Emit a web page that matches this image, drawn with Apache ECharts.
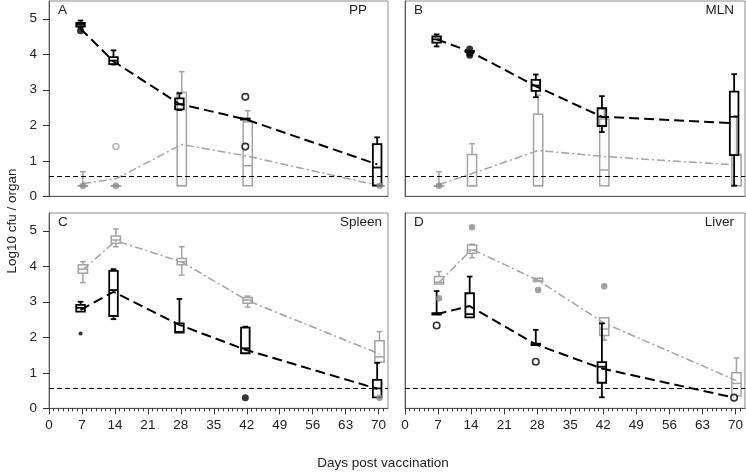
<!DOCTYPE html>
<html>
<head>
<meta charset="utf-8">
<script src="https://cdn.jsdelivr.net/npm/echarts@6/dist/echarts.min.js"></script>
<style>html,body{margin:0;padding:0;background:#fff}#c{width:746px;height:472px}</style>
</head>
<body>
<div id="c"></div>
<script>
// ---------------- DATA ----------------
const days = [7, 14, 28, 42, 70];
const xTicks = [0, 7, 14, 21, 28, 35, 42, 49, 56, 63, 70];
const yTicks = [0, 1, 2, 3, 4, 5];
const detectionLimit = 0.57;
const panelLetters = ['A', 'B', 'C', 'D'];
const panelOrgans = ['PP', 'MLN', 'Spleen', 'Liver'];

// box stats per day: [lowWhisker, q1, median, q3, highWhisker]
const ppBlackBox = [[4.75,4.78,4.83,4.88,4.95],[3.71,3.72,3.82,3.92,4.11],[2.43,2.45,2.59,2.76,2.90],[2.16,2.16,2.18,2.19,2.19],[0.30,0.30,0.81,1.47,1.66]];
const ppGreyBox  = [[0.30,0.30,0.30,0.30,0.69],[0.30,0.30,0.30,0.30,0.30],[0.30,0.30,0.30,2.92,3.51],[0.30,0.30,0.86,2.10,2.41],[0.30,0.30,0.30,0.30,0.30]];
const ppBlackMean = [4.72, 3.80, 2.60, 2.17, 0.90];
const ppGreyMean  = [0.36, 0.49, 1.46, 1.13, 0.30];
const ppBlackFilled = [[7, 4.66]];
const ppBlackOpen   = [[42, 2.80], [42, 1.40]];
const ppGreyFilled  = [[7, 0.30], [14, 0.30], [70, 0.30]];
const ppGreyOpen    = [[14, 1.40]];

const mlnBlackBox = [[4.22,4.33,4.42,4.50,4.56],[4.07,4.07,4.08,4.09,4.09],[2.79,2.97,3.12,3.28,3.43],[1.81,1.98,2.24,2.48,2.82],[0.30,1.16,2.24,2.95,3.44]];
const mlnGreyBox  = [[0.30,0.30,0.30,0.30,0.69],[0.30,0.30,0.30,1.18,1.48],[0.30,0.30,0.30,2.31,2.85],[0.30,0.30,0.74,2.18,2.45],[0.30,0.30,0.30,1.18,2.27]];
const mlnBlackMean = [4.42, 4.08, 3.10, 2.24, 2.06];
const mlnGreyMean  = [0.33, 0.64, 1.29, 1.12, 0.88];
const mlnBlackFilled = [[14, 4.15], [14, 4.03], [14, 3.97]];
const mlnBlackOpen   = [];
const mlnGreyFilled  = [[7, 0.30]];
const mlnGreyOpen    = [];

const spleenBlackBox = [[2.72,2.72,2.83,2.91,3.00],[2.51,2.60,3.33,3.87,3.92],[2.13,2.13,2.15,2.39,3.08],[1.55,1.55,1.69,2.27,2.30],[0.31,0.31,0.56,0.80,1.28]];
const spleenGreyBox  = [[3.54,3.80,3.92,4.04,4.13],[4.55,4.65,4.74,4.85,5.05],[3.75,4.04,4.13,4.22,4.55],[2.85,2.96,3.05,3.12,3.16],[1.30,1.30,1.45,1.90,2.16]];
const spleenBlackMean = [2.77, 3.28, 2.35, 1.65, 0.55];
const spleenGreyMean  = [3.90, 4.72, 4.12, 3.03, 1.53];
const spleenBlackFilled = [[42, 0.30]];
const spleenBlackSmall  = [[7, 2.11]];
const spleenBlackOpen   = [];
const spleenGreyFilled  = [[70, 0.30]];
const spleenGreyOpen    = [];

const liverBlackBox = [[2.64,2.64,2.66,2.68,3.30],[2.56,2.56,2.65,3.24,3.71],[1.78,1.78,1.80,1.82,2.21],[0.31,0.72,1.17,1.30,2.39],null];
const liverGreyBox  = [[3.50,3.50,3.55,3.71,3.85],[4.24,4.37,4.46,4.60,4.62],[3.57,3.57,3.60,3.66,3.66],[1.92,2.05,2.23,2.55,2.55],[0.35,0.35,0.70,1.00,1.42]];
const liverBlackMean = [2.65, 2.88, 1.80, 1.12, 0.30];
const liverGreyMean  = [3.55, 4.48, 3.60, 2.40, 0.78];
const liverBlackFilled = [];
const liverBlackOpen   = [[7, 2.33], [28, 1.31], [70, 0.30]];
const liverGreyFilled  = [[7, 3.10], [14, 5.10], [28, 3.33], [42, 3.44]];
const liverGreyOpen    = [];

// ---------------- STYLE / LAYOUT ----------------
const FONT = "'Liberation Sans', Arial, sans-serif";
const BLACK = '#000000';
const GREY = '#a3a3a3';
const GREY_DOT = '#8a8a8a';
const BLACK_OFF = -0.3, GREY_OFF = 0.2;
const X_MIN = 0, X_MAX = 72, X_STEP = 7;

const panels = [
  {black: ppBlackBox, grey: ppGreyBox, bm: ppBlackMean, gm: ppGreyMean, bf: ppBlackFilled, bo: ppBlackOpen, bs: [], gf: ppGreyFilled, go: ppGreyOpen},
  {black: mlnBlackBox, grey: mlnGreyBox, bm: mlnBlackMean, gm: mlnGreyMean, bf: mlnBlackFilled, bo: mlnBlackOpen, bs: [], gf: mlnGreyFilled, go: mlnGreyOpen},
  {black: spleenBlackBox, grey: spleenGreyBox, bm: spleenBlackMean, gm: spleenGreyMean, bf: spleenBlackFilled, bo: spleenBlackOpen, bs: spleenBlackSmall, gf: spleenGreyFilled, go: spleenGreyOpen},
  {black: liverBlackBox, grey: liverGreyBox, bm: liverBlackMean, gm: liverGreyMean, bf: liverBlackFilled, bo: liverBlackOpen, bs: [], gf: liverGreyFilled, go: liverGreyOpen}
];

const gridPos = [
  {left: 49, top: 1, width: 339, height: 195.3},
  {left: 405, top: 1, width: 340, height: 195.3},
  {left: 49, top: 213, width: 339, height: 195.3},
  {left: 405, top: 213, width: 340, height: 195.3}
];
const organRightEdge = [367, 734, 382, 734];

function boxRender(color, lw, halfW, capW) {
  return function (params, api) {
    const x = api.value(0);
    const lo = api.value(1), q1 = api.value(2), med = api.value(3), q3 = api.value(4), hi = api.value(5);
    const pHi = api.coord([x, hi]), pQ3 = api.coord([x, q3]), pMed = api.coord([x, med]);
    const pQ1 = api.coord([x, q1]), pLo = api.coord([x, lo]);
    const cx = pMed[0];
    const st = {stroke: color, lineWidth: lw, fill: null};
    const ch = [];
    if (hi > q3) {
      ch.push({type: 'line', shape: {x1: cx, y1: pHi[1], x2: cx, y2: pQ3[1]}, style: st});
      ch.push({type: 'line', shape: {x1: cx - capW, y1: pHi[1], x2: cx + capW, y2: pHi[1]}, style: st});
    }
    if (lo < q1) {
      ch.push({type: 'line', shape: {x1: cx, y1: pLo[1], x2: cx, y2: pQ1[1]}, style: st});
      ch.push({type: 'line', shape: {x1: cx - capW, y1: pLo[1], x2: cx + capW, y2: pLo[1]}, style: st});
    }
    ch.push({type: 'rect', shape: {x: cx - halfW, y: pQ3[1], width: 2 * halfW, height: Math.max(pQ1[1] - pQ3[1], 0.5)}, style: st});
    ch.push({type: 'line', shape: {x1: cx - halfW, y1: pMed[1], x2: cx + halfW, y2: pMed[1]}, style: st});
    return {type: 'group', children: ch};
  };
}

function boxData(arr, off) {
  const out = [];
  arr.forEach((b, i) => { if (b) out.push([days[i] + off].concat(b)); });
  return out;
}
function lineData(arr, off) { return arr.map((v, i) => [days[i] + off, v]); }
function ptData(arr, off) { return arr.map(p => [p[0] + off, p[1]]); }

const grids = [], xAxes = [], yAxes = [], series = [];
gridPos.forEach((g, i) => {
  grids.push(Object.assign({show: true, borderColor: '#8c8c8c', borderWidth: 1, backgroundColor: '#fff'}, g));
  const bottom = i >= 2, left = (i % 2) === 0;
  xAxes.push({
    type: 'value', gridIndex: i, min: X_MIN, max: X_MAX, interval: X_STEP, position: 'bottom',
    axisLine: {show: true, onZero: false, lineStyle: {color: '#555', width: 1}},
    axisTick: {show: bottom, length: 6, customValues: xTicks, lineStyle: {color: '#333'}},
    minorTick: {show: bottom, splitNumber: X_STEP, length: 3, lineStyle: {color: '#333', width: 1}},
    axisLabel: {show: bottom, customValues: xTicks, fontSize: 13.5, fontFamily: FONT, color: '#222', margin: 10},
    splitLine: {show: false}, minorSplitLine: {show: false}
  });
  yAxes.push({
    type: 'value', gridIndex: i, min: 0, max: 5.5,
    axisLine: {show: true, onZero: false, lineStyle: {color: '#555', width: 1}},
    axisTick: {show: left, length: 6, customValues: yTicks, lineStyle: {color: '#333'}},
    axisLabel: {show: left, customValues: yTicks, fontSize: 13.5, fontFamily: FONT, color: '#222', margin: 12},
    splitLine: {show: false}
  });
  const p = panels[i];
  const xi = i;
  series.push({
    type: 'custom', xAxisIndex: xi, yAxisIndex: i, renderItem: boxRender(GREY, 1.5, 4.6, 2.8),
    data: boxData(p.grey, GREY_OFF), encode: {x: 0, y: [1, 2, 3, 4, 5]}, z: 2, silent: true,
    markLine: {
      silent: true, symbol: 'none', label: {show: false},
      lineStyle: {color: '#000', width: 1, type: [5, 3]},
      data: [{yAxis: detectionLimit}]
    }
  });
  series.push({
    type: 'line', xAxisIndex: xi, yAxisIndex: i, data: lineData(p.gm, GREY_OFF), showSymbol: false,
    lineStyle: {color: GREY, width: 1.5, type: [8, 3, 2, 3]}, z: 3, silent: true
  });
  series.push({
    type: 'custom', xAxisIndex: xi, yAxisIndex: i, renderItem: boxRender(BLACK, 1.8, 4.3, 2.8),
    data: boxData(p.black, BLACK_OFF), encode: {x: 0, y: [1, 2, 3, 4, 5]}, z: 4, silent: true
  });
  series.push({
    type: 'line', xAxisIndex: xi, yAxisIndex: i, data: lineData(p.bm, BLACK_OFF), showSymbol: false,
    lineStyle: {color: BLACK, width: 2, type: [10, 5]}, z: 5, silent: true
  });
  series.push({type: 'scatter', xAxisIndex: xi, yAxisIndex: i, data: ptData(p.gf, GREY_OFF), symbolSize: 6.5,
    itemStyle: {color: GREY_DOT}, z: 6, silent: true});
  series.push({type: 'scatter', xAxisIndex: xi, yAxisIndex: i, data: ptData(p.go, GREY_OFF), symbolSize: 6,
    itemStyle: {color: '#fff', borderColor: GREY, borderWidth: 1.5}, z: 6, silent: true});
  series.push({type: 'scatter', xAxisIndex: xi, yAxisIndex: i, data: ptData(p.bf, BLACK_OFF), symbolSize: 7,
    itemStyle: {color: BLACK}, z: 7, silent: true});
  series.push({type: 'scatter', xAxisIndex: xi, yAxisIndex: i, data: ptData(p.bs, BLACK_OFF), symbolSize: 4,
    itemStyle: {color: BLACK}, z: 7, silent: true});
  series.push({type: 'scatter', xAxisIndex: xi, yAxisIndex: i, data: ptData(p.bo, BLACK_OFF), symbolSize: 6.5,
    itemStyle: {color: '#fff', borderColor: BLACK, borderWidth: 1.6}, z: 7, silent: true});
});

const titles = [];
gridPos.forEach((g, i) => {
  titles.push({text: panelLetters[i], left: g.left + 9, top: g.top + 2, padding: 0,
    textStyle: {fontSize: 13.5, fontWeight: 'normal', fontFamily: FONT, color: '#222'}});
  titles.push({text: panelOrgans[i], right: 746 - organRightEdge[i], top: g.top + 2, padding: 0,
    textStyle: {fontSize: 13.5, fontWeight: 'normal', fontFamily: FONT, color: '#222'}});
});

const chart = echarts.init(document.getElementById('c'), null, {renderer: 'canvas'});
chart.setOption({
  animation: false,
  backgroundColor: '#fff',
  title: titles,
  grid: grids,
  xAxis: xAxes,
  yAxis: yAxes,
  series: series,
  graphic: [
    {type: 'text', x: 383, y: 456, style: {text: 'Days post vaccination', fontSize: 13.5, fontFamily: FONT, fill: '#222', align: 'center', verticalAlign: 'top'}},
    {type: 'text', x: 5, y: 221, rotation: Math.PI / 2,
      style: {text: 'Log10 cfu / organ', fontSize: 13.5, fontFamily: FONT, fill: '#222', align: 'center', verticalAlign: 'top'}}
  ]
});
</script>
</body>
</html>
